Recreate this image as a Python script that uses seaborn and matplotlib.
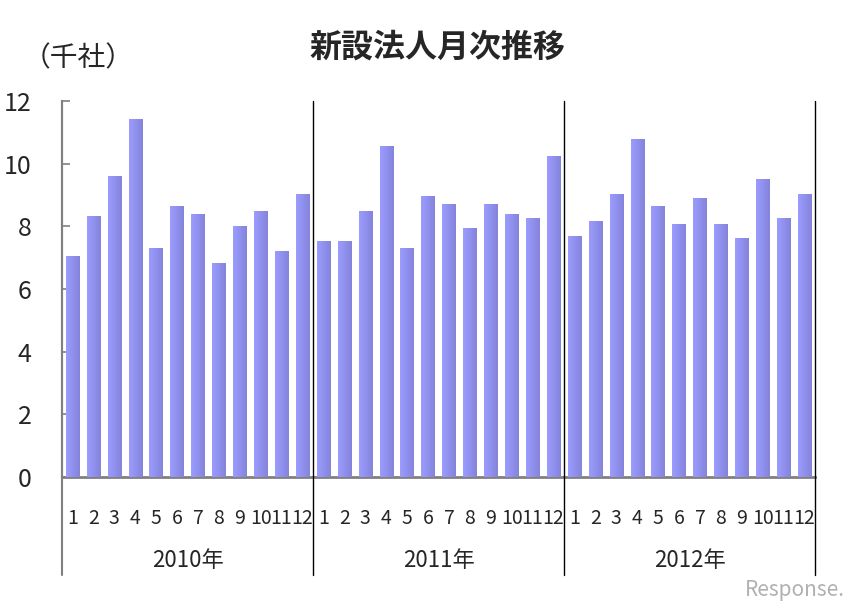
import numpy as np
import pandas as pd
import seaborn as sns
import matplotlib.pyplot as plt
from matplotlib.colors import LinearSegmentedColormap

sns.set_theme(style="white")
plt.rcParams['font.family'] = ['Noto Sans CJK JP', 'DejaVu Sans']

# monthly new corporations (thousand companies)
years = ["2010年", "2011年", "2012年"]
months = [str(m) for m in range(1, 13)]
v2010 = [7.06, 8.33, 9.61, 11.43, 7.31, 8.65, 8.40, 6.83, 8.01, 8.49, 7.22, 9.03]
v2011 = [7.54, 7.54, 8.49, 10.57, 7.31, 8.97, 8.72, 7.95, 8.72, 8.40, 8.27, 10.25]
v2012 = [7.70, 8.17, 9.03, 10.79, 8.65, 8.08, 8.91, 8.08, 7.63, 9.51, 8.27, 9.03]

df = pd.DataFrame({
    "idx": list(range(36)),
    "month": months * 3,
    "value": v2010 + v2011 + v2012,
})

fig = plt.figure(figsize=(8.65, 6.11), dpi=100)
ax = fig.add_axes([62 / 865, 1 - 477 / 611, (815 - 62) / 865, (477 - 101) / 611])

sns.barplot(data=df, x="idx", y="value", color="#9090ee", width=0.64,
            saturation=1, ax=ax, zorder=2)

# horizontal gradient on each bar
grad = LinearSegmentedColormap.from_list("bar", ["#9c9cff", "#8484dc"])
g = np.linspace(0, 1, 64).reshape(1, -1)
for p in ax.patches:
    x0, y0 = p.get_x(), p.get_y()
    w, h = p.get_width(), p.get_height()
    im = ax.imshow(g, cmap=grad, aspect="auto", extent=[x0, x0 + w, y0, y0 + h],
                   zorder=3)
    im.set_clip_path(p)
    p.set_edgecolor("none")

ax.set_xlim(-0.5, 35.5)
ax.set_ylim(0, 12)
ax.set_yticks(range(0, 13, 2))
ax.tick_params(axis="y", direction="in", length=6, width=1.2, color="#808080",
               labelsize=18, pad=22, left=True)
ax.set_xticks(range(36))
ax.set_xticklabels(df["month"], fontsize=14)
ax.tick_params(axis="x", length=0, pad=22)
ax.set_xlabel("")
ax.set_ylabel("")

for s in ["top", "right"]:
    ax.spines[s].set_visible(False)
ax.spines["left"].set_color("#808080")
ax.spines["left"].set_linewidth(1.5)
ax.spines["bottom"].set_color("#808080")
ax.spines["bottom"].set_linewidth(2)

# year separators reaching below the axis
trans = ax.get_xaxis_transform()
for xb in [-0.5, 11.5, 23.5, 35.5]:
    col = "#808080" if xb == -0.5 else "black"
    lw = 1.5 if xb == -0.5 else 1.0
    ax.plot([xb, xb], [-0.26, 1.0], transform=trans, color=col, lw=lw,
            clip_on=False, zorder=4)

for i, yr in enumerate(years):
    ax.text(i * 12 + 5.5, -0.222, yr, transform=trans, ha="center", va="center",
            fontsize=16)

fig.text(437 / 865, 1 - 48 / 611, "新設法人月次推移", ha="center", va="center",
         fontsize=23, fontweight="bold")
fig.text(78 / 865, 1 - 58 / 611, "（千社）", ha="center", va="center", fontsize=20)
fig.text(795 / 865, 1 - 590 / 611, "Response.", ha="center", va="center",
         fontsize=15, color="#b0b0b0", style="italic")

fig.savefig("out.png", dpi=100)
